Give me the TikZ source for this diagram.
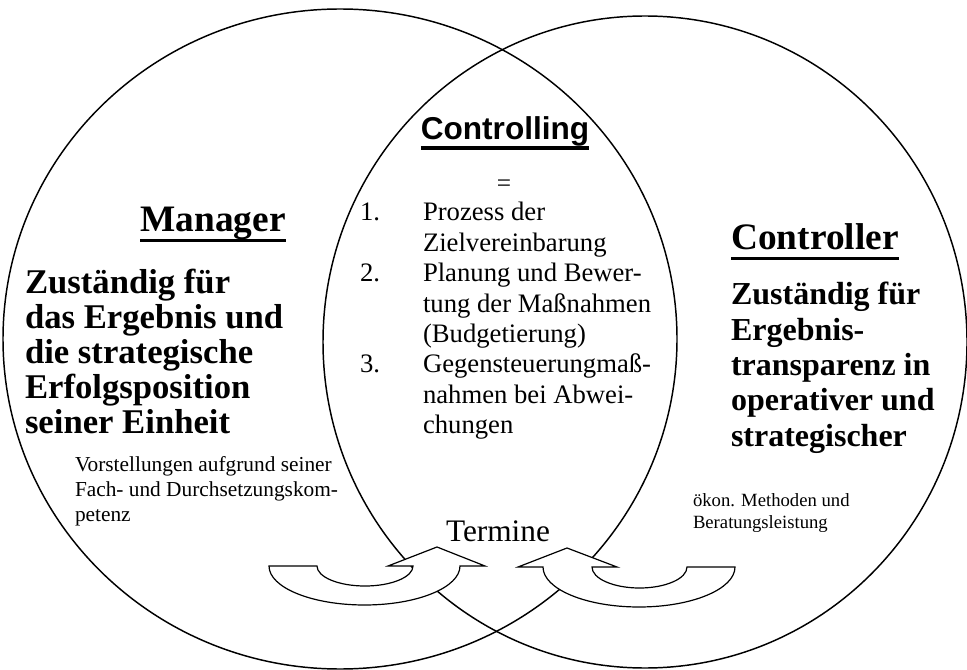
\documentclass[tikz,border=0pt]{standalone}
\usepackage{fontspec}
\setmainfont{Liberation Serif}
\newfontfamily\arialfont{Liberation Sans}
% font size with leading
\newcommand\fsz[2]{\fontsize{#1}{#2}\selectfont}
% stack of lines with a fixed distance between baselines
\newcommand\lns[2]{\vtop{\lineskiplimit=-\maxdimen\baselineskip=#1\relax #2}}
\begin{document}
\begin{tikzpicture}[x=0.75pt,y=-0.75pt,
  ring/.style={line width=1.1pt},
  uarrow/.style={draw=black,fill=white,line width=0.9pt,line join=miter},
  txt/.style={inner sep=0pt,outer sep=0pt},
  uline/.style={line width=2pt}]
\useasboundingbox (0,0) rectangle (967,670);

% the two overlapping ellipses
\draw[ring] (340,339) ellipse [x radius=337*0.75pt, y radius=330*0.75pt];
\draw[ring] (645,342) ellipse [x radius=322*0.75pt, y radius=326*0.75pt];

% curved arrow from the manager side
\draw[uarrow] (269,566) -- (317,566)
  arc[start angle=180,end angle=360,x radius=48*0.75pt,y radius=20*0.75pt]
  -- (388,566) -- (437,547) -- (485,566) -- (460,566)
  arc[start angle=0,end angle=-180,x radius=95.5*0.75pt,y radius=39*0.75pt]
  -- cycle;
% curved arrow from the controller side
\draw[uarrow] (735,567) -- (687,567)
  arc[start angle=0,end angle=-180,x radius=47.5*0.75pt,y radius=21*0.75pt]
  -- (617,567) -- (567,548) -- (518,567) -- (543,567)
  arc[start angle=180,end angle=360,x radius=96*0.75pt,y radius=40*0.75pt]
  -- cycle;

% centre: Controlling
\node[txt,anchor=base,font=\arialfont\bfseries\fsz{23.7}{27}] (ctl) at (505,140) {Controlling};
\draw[uline,line width=2.3pt] ([yshift=-6pt]ctl.base west) -- ([yshift=-6pt]ctl.base east);
\node[txt,anchor=base,font=\fsz{19}{22}] (eq) at (504,192) {=};
\node[txt,anchor=base west,font=\fsz{20}{22.8}] (nums) at (360,221)
  {\lns{22.8pt}{\hbox{1.}\hbox{}\hbox{2.}\hbox{}\hbox{}\hbox{3.}}};
\node[txt,anchor=base west,font=\fsz{20}{22.8}] (items) at (423,221)
  {\lns{22.8pt}{\hbox{Prozess der}\hbox{Zielvereinbarung}\hbox{Planung und Bewer-}%
   \hbox{tung der Maßnahmen}\hbox{(Budgetierung)}\hbox{Gegensteuerungmaß-}%
   \hbox{nahmen bei Abwei-}\hbox{chungen}}};
\node[txt,anchor=base,font=\fsz{23.5}{27}] (term) at (498,541) {Termine};

% left: Manager
\node[txt,anchor=base,font=\bfseries\fsz{28}{30}] (mgr) at (213,232) {Manager};
\draw[uline] ([yshift=-6.5pt]mgr.base west) -- ([yshift=-6.5pt]mgr.base east);
\node[txt,anchor=base west,font=\bfseries\fsz{26}{26.25}] (mgrtask) at (25,293)
  {\lns{26.25pt}{\hbox{Zuständig für}\hbox{das Ergebnis und}\hbox{die strategische}%
   \hbox{Erfolgsposition}\hbox{seiner Einheit}}};
\node[txt,anchor=base west,font=\fsz{16}{18.75}] (mgrnote) at (75,471)
  {\lns{18.75pt}{\hbox{Vorstellungen aufgrund seiner}\hbox{Fach- und Durchsetzungskom-}\hbox{petenz}}};

% right: Controller
\node[txt,anchor=base,font=\bfseries\fsz{28}{30}] (ctr) at (815,250) {Controller};
\draw[uline] ([yshift=-6.5pt]ctr.base west) -- ([yshift=-6.5pt]ctr.base east);
\node[txt,anchor=base west,font=\bfseries\fsz{24}{26.5}] (ctrtask) at (731,305)
  {\lns{26.5pt}{\hbox{Zuständig für}\hbox{Ergebnis-}\hbox{transparenz in}%
   \hbox{operativer und}\hbox{strategischer}}};
\node[txt,anchor=base west,font=\fsz{14}{16.5}] (ctrnote) at (693,506)
  {\lns{16.5pt}{\hbox{ökon. Methoden und}\hbox{Beratungsleistung}}};
\end{tikzpicture}
\end{document}
